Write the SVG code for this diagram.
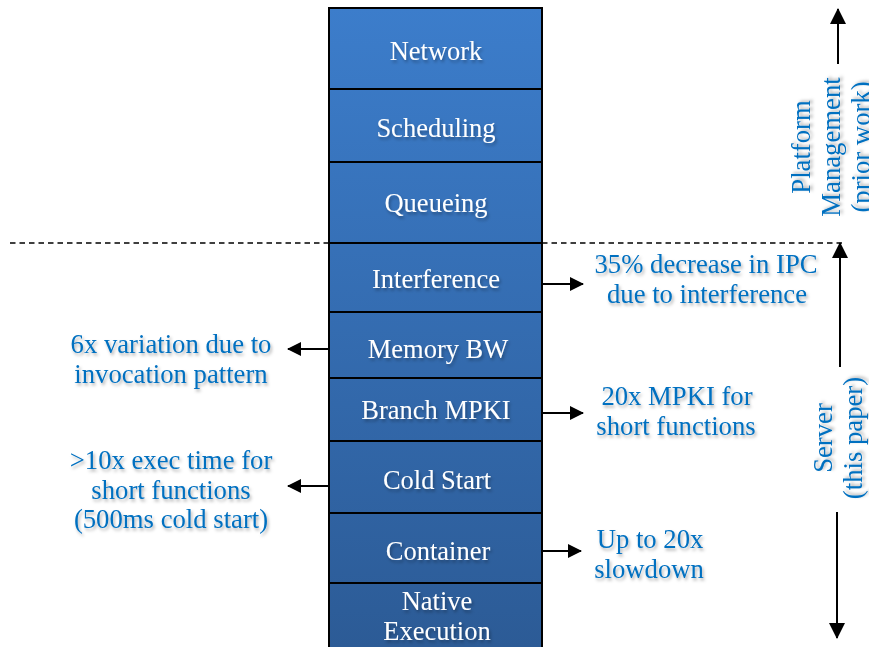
<svg xmlns="http://www.w3.org/2000/svg" width="869" height="647" viewBox="0 0 869 647">
  <defs>
    <linearGradient id="stackFill" gradientUnits="userSpaceOnUse" x1="0" y1="8" x2="0" y2="647">
      <stop offset="0" stop-color="#3C7DCB"/>
      <stop offset="1" stop-color="#2C5B96"/>
    </linearGradient>
    <filter id="shadow" x="-10%" y="-30%" width="120%" height="160%">
      <feDropShadow dx="1.5" dy="2.5" stdDeviation="1.5" flood-color="#000" flood-opacity="0.3"/>
    </filter>
    <marker id="arrow" viewBox="0 0 14 14" refX="13" refY="7" markerWidth="14" markerHeight="14" markerUnits="userSpaceOnUse" orient="auto">
      <path d="M0,0 L14,7 L0,14 Z" fill="#000"/>
    </marker>
    <marker id="arrowBig" viewBox="0 0 16 16" refX="15" refY="8" markerWidth="16" markerHeight="16" markerUnits="userSpaceOnUse" orient="auto">
      <path d="M0,0 L16,8 L0,16 Z" fill="#000"/>
    </marker>
  </defs>
  <style>
    .blk { fill: url(#stackFill); stroke: #000; stroke-width: 2; }
    .lbl { font-family: "Liberation Serif", "Times New Roman", serif; font-size: 26.5px; fill: #FFFFFF; text-anchor: middle; filter: url(#shadow); }
    .note { font-family: "Liberation Serif", "Times New Roman", serif; font-size: 26.7px; fill: #0070C0; text-anchor: middle; filter: url(#shadow); }
    .conn { stroke: #000; stroke-width: 2; fill: none; }
    .dash { stroke: #000; stroke-width: 1.6; stroke-dasharray: 5.5 4; fill: none; }
  </style>

  <g id="connectors">
    <line class="dash" x1="10" y1="243" x2="842" y2="243"/>
    <line class="conn" x1="543" y1="284" x2="583" y2="284" marker-end="url(#arrow)"/>
    <line class="conn" x1="328" y1="349" x2="288" y2="349" marker-end="url(#arrow)"/>
    <line class="conn" x1="543" y1="413" x2="583" y2="413" marker-end="url(#arrow)"/>
    <line class="conn" x1="328" y1="486" x2="288" y2="486" marker-end="url(#arrow)"/>
    <line class="conn" x1="543" y1="551" x2="581" y2="551" marker-end="url(#arrow)"/>
    <line class="conn" x1="838" y1="64" x2="838" y2="9" marker-end="url(#arrowBig)"/>
    <line class="conn" x1="840" y1="367" x2="840" y2="243" marker-end="url(#arrowBig)"/>
    <line class="conn" x1="837" y1="512" x2="837" y2="638" marker-end="url(#arrowBig)"/>
  </g>

  <g id="network"><rect class="blk" x="329" y="8" width="213" height="81"/><text class="lbl" x="436" y="60">Network</text></g>
  <g id="scheduling"><rect class="blk" x="329" y="89" width="213" height="73"/><text class="lbl" x="436" y="137">Scheduling</text></g>
  <g id="queueing"><rect class="blk" x="329" y="162" width="213" height="81"/><text class="lbl" x="436" y="212">Queueing</text></g>
  <g id="interference"><rect class="blk" x="329" y="243" width="213" height="69"/><text class="lbl" x="436" y="288">Interference</text></g>
  <g id="memory-bw"><rect class="blk" x="329" y="312" width="213" height="66"/><text class="lbl" x="438" y="358">Memory BW</text></g>
  <g id="branch-mpki"><rect class="blk" x="329" y="378" width="213" height="63"/><text class="lbl" x="436" y="419">Branch MPKI</text></g>
  <g id="cold-start"><rect class="blk" x="329" y="441" width="213" height="72"/><text class="lbl" x="437" y="489">Cold Start</text></g>
  <g id="container"><rect class="blk" x="329" y="513" width="213" height="70"/><text class="lbl" x="438" y="560">Container</text></g>
  <g id="native-execution"><rect class="blk" x="329" y="583" width="213" height="70"/><text class="lbl" x="437" y="610">Native</text><text class="lbl" x="437" y="640">Execution</text></g>

  <g id="note-interference"><text class="note" x="706" y="273">35% decrease in IPC</text><text class="note" x="707" y="303">due to interference</text></g>
  <g id="note-memory"><text class="note" x="171" y="353">6x variation due to</text><text class="note" x="171" y="383">invocation pattern</text></g>
  <g id="note-branch"><text class="note" x="677" y="405">20x MPKI for</text><text class="note" x="676" y="435">short functions</text></g>
  <g id="note-cold"><text class="note" x="171" y="469">&gt;10x exec time for</text><text class="note" x="171" y="499">short functions</text><text class="note" x="171" y="528">(500ms cold start)</text></g>
  <g id="note-container"><text class="note" x="650" y="548">Up to 20x</text><text class="note" x="649" y="578">slowdown</text></g>

  <g id="label-platform">
    <text class="note" transform="translate(810,147) rotate(-90)">Platform</text>
    <text class="note" transform="translate(840,147) rotate(-90)">Management</text>
    <text class="note" transform="translate(870,147) rotate(-90)">(prior work)</text>
  </g>
  <g id="label-server">
    <text class="note" transform="translate(832,438) rotate(-90)">Server</text>
    <text class="note" transform="translate(862,438) rotate(-90)">(this paper)</text>
  </g>
</svg>
